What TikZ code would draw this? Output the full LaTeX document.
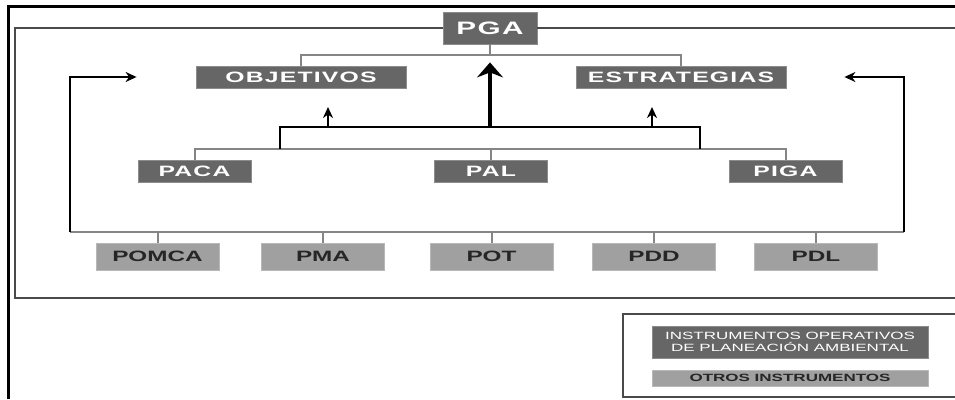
\documentclass[tikz,border=0pt]{standalone}
\usepackage{fontspec}
\newfontfamily\anchafont[FakeStretch=1.65,LetterSpace=8]{Liberation Sans}
\newfontfamily\otrafont[FakeStretch=1.62]{Liberation Sans}
\usetikzlibrary{arrows.meta}
\definecolor{oscuro}{HTML}{666666}
\definecolor{claro}{HTML}{A0A0A0}
\definecolor{gris}{HTML}{858585}
\definecolor{borde}{HTML}{4A4A4A}

\begin{document}
\begin{tikzpicture}[x=1pt,y=-1pt,
  caja/.style={fill=oscuro,draw=oscuro!75!white,line width=0.8pt,inner sep=0pt,text=white,
    font=\anchafont\bfseries\fontsize{15}{15}\selectfont,minimum width=113,minimum height=22},
  otro/.style={fill=claro,draw=claro!75!white,line width=0.8pt,inner sep=0pt,text=black!85,
    font=\otrafont\bfseries\fontsize{15}{15}\selectfont,minimum width=123,minimum height=27},
  rama/.style={gris,line width=2pt},
  marco/.style={borde,line width=1.5pt},
  flecha/.style={line width=2pt,-{Stealth[length=11pt,width=10pt,inset=3.5pt]}}]
 \useasboundingbox (0,0) rectangle (955,399);
 \draw[line width=3pt] (8,399)--(8,6)--(955,6); %marco exterior

 \node[caja,minimum width=94,minimum height=32,font=\anchafont\bfseries\fontsize{18}{18}\selectfont]
   (pga) at (490,28) {PGA};
 \node[caja,minimum width=210] (obj) at (301,77) {OBJETIVOS};
 \node[caja,minimum width=210] (est) at (681,77) {ESTRATEGIAS};
 \node[caja] (paca) at (194.5,171) {PACA};
 \node[caja] (pal) at (491,171) {PAL};
 \node[caja] (piga) at (785.5,171) {PIGA};
 \foreach \n/\t/\x in {pomca/POMCA/157.5,pma/PMA/323,pot/POT/491.5,pdd/PDD/654,pdl/PDL/816}
   \node[otro] (\n) at (\x,256.5) {\t}; %otros instrumentos

 \draw[marco] (955,298)--(15,298)--(15,28)--(pga.west); %marco interior
 \draw[marco] (pga.east)--(955,28);

 \draw[rama] (pga.south)--++(0,11) coordinate (r1);
 \draw[rama] (obj.north) |- (r1) -| (est.north);
 \coordinate (r2) at (490,149);
 \draw[rama] (paca.north) |- (r2) -| (piga.north);
 \draw[rama] (pal.north)--(pal.north |- r2);
 \coordinate (izq) at (70,232);
 \coordinate (der) at (904,232);
 \draw[rama] (izq)--(der);
 \foreach \n in {pomca,pma,pot,pdd,pdl}
   \draw[rama] (\n.north)--(\n.north |- izq);

 \draw[flecha] (izq) |- ([xshift=-59pt]obj.west); %retorno izquierdo
 \draw[flecha] (der) |- ([xshift=58pt]est.east); %retorno derecho

 \coordinate (ci) at (280,127);
 \coordinate (cd) at (700,127);
 \draw[line width=2.5pt] (ci |- r2)--(ci)--(cd)--(cd |- r2);
 \draw[line width=4.5pt,-{Stealth[length=15pt,width=26pt,inset=5pt]}]
   (ci -| pga.south)--([yshift=-18pt]pga.south); %hacia PGA
 \draw[flecha] ([xshift=48pt]ci)--++(0,-20);
 \draw[flecha] ([xshift=-48pt]cd)--++(0,-20);

 \draw[marco] (955,314)--(623,314)--(623,397)--(955,397); %leyenda
 \node[caja,font=\otrafont\fontsize{10.5}{12}\selectfont,align=center,minimum width=276,minimum height=32]
   (ley1) at (790,342) {INSTRUMENTOS OPERATIVOS\\DE PLANEACIÓN AMBIENTAL};
 \node[otro,font=\otrafont\bfseries\fontsize{10.5}{10.5}\selectfont,minimum width=276,minimum height=16]
   (ley2) at (790,378) {OTROS INSTRUMENTOS};
\end{tikzpicture}
\end{document}
